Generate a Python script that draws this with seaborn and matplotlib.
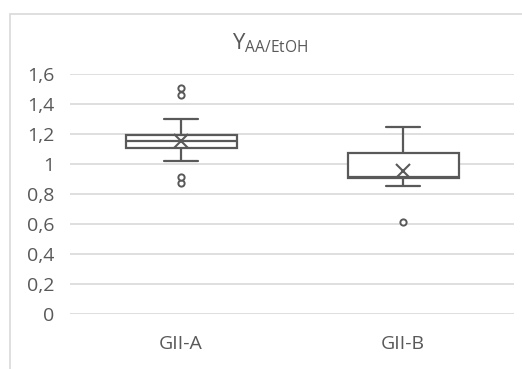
import numpy as np
import pandas as pd
import matplotlib
matplotlib.use("Agg")
import matplotlib.pyplot as plt
import seaborn as sns
from matplotlib.patches import Rectangle

# Data
groups = ["GII-A", "GII-B"]
gii_a = [0.871, 0.915, 1.022, 1.08, 1.10, 1.11, 1.115, 1.12, 1.13, 1.15,
         1.155, 1.16, 1.165, 1.17, 1.19, 1.195, 1.20, 1.298, 1.46, 1.505]
gii_b = [0.615, 0.855, 0.90, 0.905, 0.908, 0.91, 0.912, 0.95, 1.07, 1.08,
         1.10, 1.249]
yticks = [0, 0.2, 0.4, 0.6, 0.8, 1.0, 1.2, 1.4, 1.6]
ytick_labels = ["0", "0,2", "0,4", "0,6", "0,8", "1", "1,2", "1,4", "1,6"]

df = pd.DataFrame({
    "group": [groups[0]] * len(gii_a) + [groups[1]] * len(gii_b),
    "value": gii_a + gii_b,
})

sns.set_theme(style="white")
plt.rcParams["font.family"] = ["Open Sans", "DejaVu Sans"]

gray = "#595959"
grid = "#d9d9d9"

fig = plt.figure(figsize=(5.22, 3.69), dpi=100)
fig.patches.append(Rectangle((10 / 522, -0.1), 1.2, 1 - 14 / 369 + 0.1,
                             transform=fig.transFigure, fill=False,
                             edgecolor=grid, linewidth=1.2, zorder=0))
ax = fig.add_axes([70 / 522, 1 - 314 / 369, 444 / 522, 240 / 369])

sns.boxplot(data=df, x="group", y="value", order=groups, ax=ax,
            width=0.5, whis=1.5, color="white", linecolor=gray, linewidth=1.6,
            showmeans=True,
            meanprops=dict(marker="x", markeredgecolor=gray, markersize=10,
                           markeredgewidth=1.5),
            flierprops=dict(marker="o", markerfacecolor="white",
                            markeredgecolor=gray, markersize=4.5,
                            markeredgewidth=1.4),
            medianprops=dict(color=gray, linewidth=1.6),
            capwidths=0.15)

ax.set_ylim(0, 1.6)
ax.set_xlim(-0.5, 1.5)
ax.set_yticks(yticks)
ax.set_yticklabels(ytick_labels)
ax.yaxis.grid(True, color=grid, linewidth=1.2)
ax.set_axisbelow(True)
for s in ax.spines.values():
    s.set_visible(False)
ax.tick_params(axis="both", length=0, colors=gray, labelsize=14)
ax.tick_params(axis="x", pad=15)
ax.tick_params(axis="y", pad=11)
ax.set_xlabel("")
ax.set_ylabel("")
fig.text(270 / 522, 1 - 43 / 369, r"$\mathregular{Y_{AA/EtOH}}$",
         ha="center", va="center", fontsize=16, color=gray)

fig.savefig("out.png", dpi=100)
